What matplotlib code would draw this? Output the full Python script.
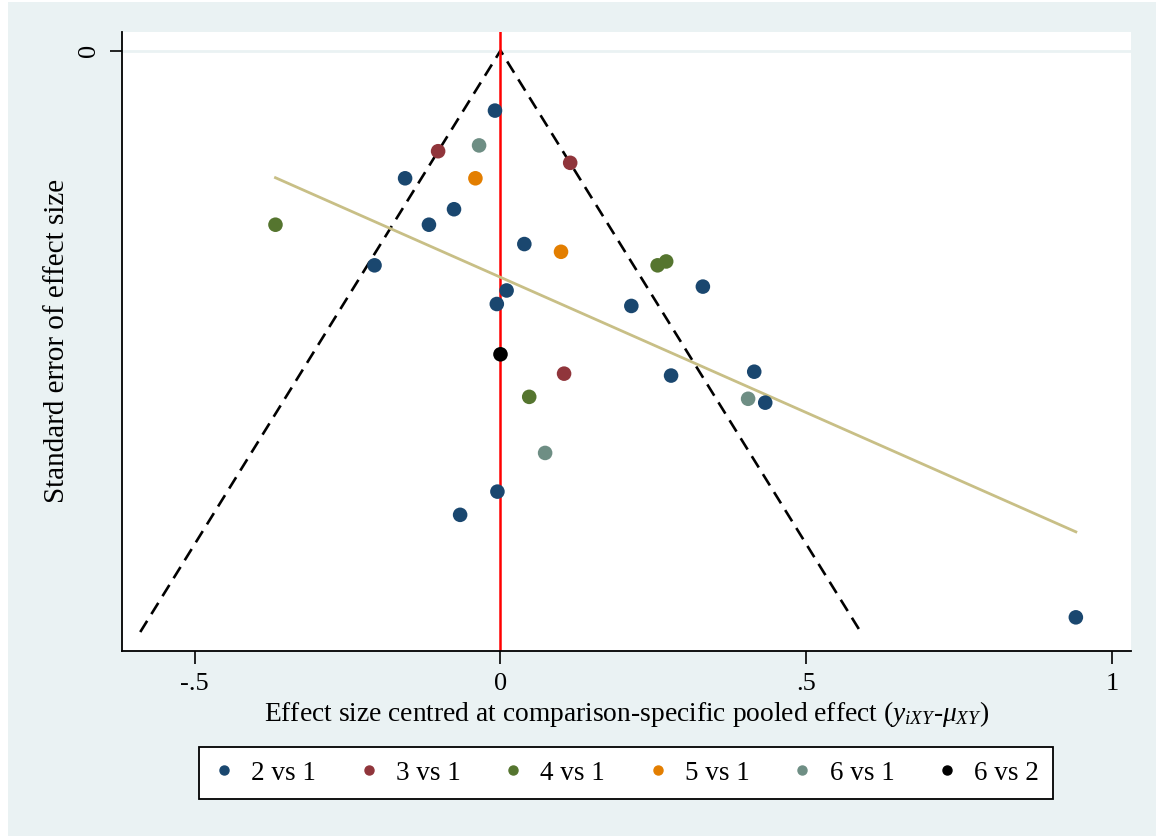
import numpy as np
import matplotlib
matplotlib.use("Agg")
import matplotlib.pyplot as plt
from matplotlib.lines import Line2D
from matplotlib.patches import Rectangle

plt.rcParams['font.family'] = ['Liberation Serif', 'DejaVu Serif']
plt.rcParams['mathtext.fontset'] = 'custom'
plt.rcParams['mathtext.rm'] = 'Liberation Serif'
plt.rcParams['mathtext.it'] = 'Liberation Serif:italic'

# effect size centred at comparison-specific pooled effect, and its standard error
comparisons = ["2 vs 1", "3 vs 1", "4 vs 1", "5 vs 1", "6 vs 1", "6 vs 2"]
colors = ["#1a476f", "#90353b", "#55752f", "#e37e00", "#6e8e84", "#000000"]

x_2v1 = [-0.009, -0.156, -0.076, -0.117, 0.039, -0.206, 0.010, -0.006,
         0.331, 0.214, 0.279, 0.415, 0.433, -0.005, -0.066, 0.941]
se_2v1 = [0.031, 0.066, 0.082, 0.090, 0.100, 0.111, 0.124, 0.131,
          0.122, 0.132, 0.168, 0.166, 0.182, 0.228, 0.240, 0.293]
x_3v1 = [-0.102, 0.114, 0.104]
se_3v1 = [0.052, 0.058, 0.167]
x_4v1 = [-0.368, 0.257, 0.271, 0.047]
se_4v1 = [0.090, 0.111, 0.109, 0.179]
x_5v1 = [-0.041, 0.099]
se_5v1 = [0.066, 0.104]
x_6v1 = [-0.035, 0.405, 0.073]
se_6v1 = [0.049, 0.180, 0.208]
x_6v2 = [0.000]
se_6v2 = [0.157]

xs = [x_2v1, x_3v1, x_4v1, x_5v1, x_6v1, x_6v2]
ses = [se_2v1, se_3v1, se_4v1, se_5v1, se_6v1, se_6v2]

funnel_se_max = 0.3006
xticks = [-0.5, 0, 0.5, 1]
xtick_labels = ["-.5", "0", ".5", "1"]

bg = "#eaf2f3"
fig = plt.figure(figsize=(11.56, 8.36), dpi=100)
fig.patch.set_facecolor("white")
fig.patches.append(Rectangle((8 / 1156, 0), 1 - 8 / 1156, 1 - 2 / 836,
                             transform=fig.transFigure, facecolor=bg,
                             edgecolor="none", zorder=-10))

ax = fig.add_axes([0.1058, 0.2213, 0.9788 - 0.1058, 0.9621 - 0.2213])
ax.set_facecolor("white")

# grid line at 0
ax.axhline(0, color=bg, lw=2, zorder=0)

# pseudo 95% confidence funnel
ax.plot([-1.96 * funnel_se_max, 0, 1.96 * funnel_se_max],
        [funnel_se_max, 0, funnel_se_max],
        color="black", lw=1.9, ls=(0, (5, 3)), zorder=2)

# line of null effect
ax.axvline(0, color="#ff0000", lw=1.8, zorder=2)

# fitted line of se on centred effect
all_x = np.concatenate([np.array(v) for v in xs])
all_se = np.concatenate([np.array(v) for v in ses])
b, a = np.polyfit(all_x, all_se, 1)
xx = np.array([all_x.min(), all_x.max()])
ax.plot(xx, a + b * xx, color="#c8bf86", lw=2, zorder=2)

for xv, sv, c in zip(xs, ses, colors):
    ax.scatter(xv, sv, s=110, color=c, edgecolors="none", zorder=3)

ax.set_xlim(-0.6185, 1.032)
ax.set_ylim(0.3104, -0.0098)
ax.set_xticks(xticks)
ax.set_xticklabels(xtick_labels, fontsize=19)
ax.set_yticks([0])
ax.set_yticklabels(["0"], fontsize=19, rotation=90, va="center")
ax.tick_params(axis="both", direction="out", length=9, width=1.2, pad=7)
for s in ["top", "right"]:
    ax.spines[s].set_visible(False)
for s in ["left", "bottom"]:
    ax.spines[s].set_linewidth(1.3)

ax.set_xlabel(r"Effect size centred at comparison-specific pooled effect ($y_{iXY}$-$\mu_{XY}$)",
              fontsize=19.8, labelpad=3)
ax.set_ylabel("Standard error of effect size", fontsize=21, labelpad=6)

handles = [Line2D([], [], marker="o", ls="none", color=c, markersize=6.5) for c in colors]
leg = fig.legend(handles, comparisons, loc="center", bbox_to_anchor=(626 / 1156, 1 - 773 / 836),
                 ncol=6, fontsize=19.5, frameon=True, fancybox=False, framealpha=1,
                 handlelength=0.8, handletextpad=0.6, columnspacing=1.55, borderpad=0.5)
leg.get_frame().set_edgecolor("black")
leg.get_frame().set_linewidth(1.3)
leg.get_frame().set_facecolor("white")

fig.savefig("out.png", dpi=100, facecolor=fig.get_facecolor())
